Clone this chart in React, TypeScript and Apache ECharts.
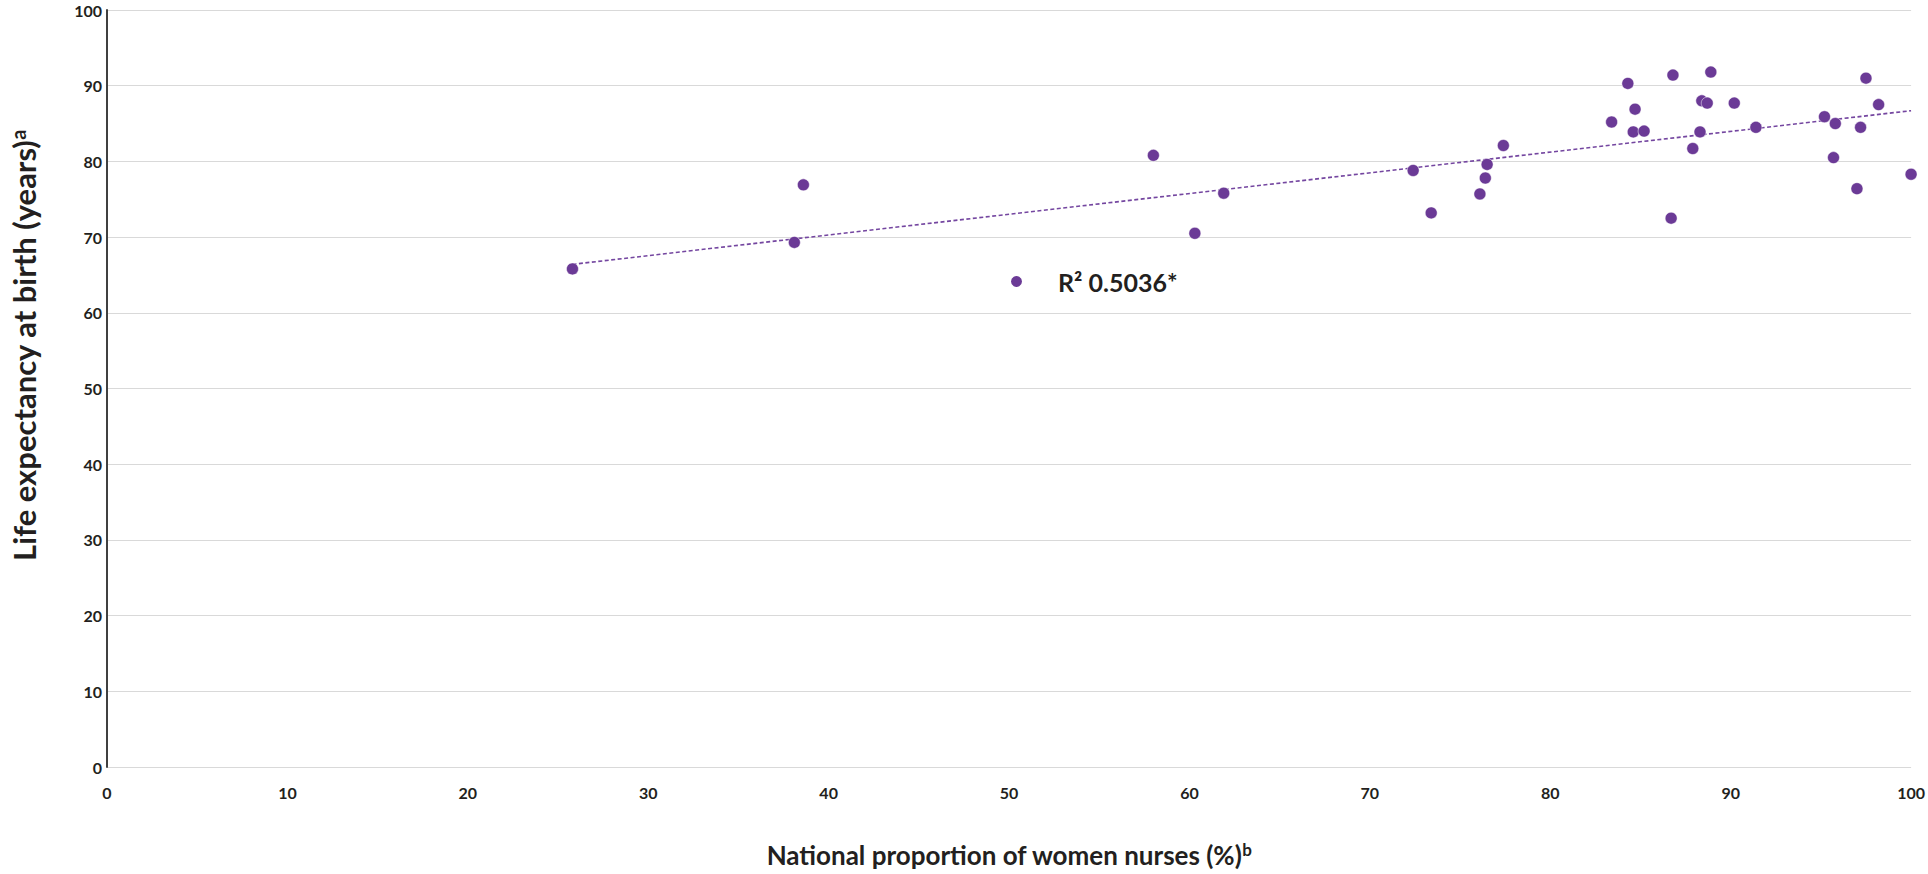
import React, { useEffect, useRef } from "react";
import * as echarts from "echarts";

// National proportion of women nurses (%)
const womenNursesPct = [
  25.8, 38.1, 38.6, 58.0, 60.3, 61.9, 72.4, 73.4, 76.1, 76.4, 76.5, 77.4,
  83.4, 84.3, 84.7, 84.6, 85.2, 86.8, 86.7, 87.9, 88.3, 88.4, 88.7, 88.9,
  90.2, 91.4, 95.2, 95.8, 95.7, 97.0, 97.2, 97.5, 98.2, 100.0,
];
// Life expectancy at birth (years)
const lifeExpectancy = [
  65.8, 69.3, 76.9, 80.8, 70.5, 75.8, 78.8, 73.2, 75.7, 77.8, 79.6, 82.1,
  85.2, 90.3, 86.9, 83.9, 84.0, 91.4, 72.5, 81.7, 83.9, 88.0, 87.7, 91.8,
  87.7, 84.5, 85.9, 85.0, 80.5, 76.4, 84.5, 91.0, 87.5, 78.3,
];
// Linear trend line end points
const trendX = [25.8, 100];
const trendY = [66.4, 86.7];

const xTicks = [0, 10, 20, 30, 40, 50, 60, 70, 80, 90, 100];
const yTicks = [0, 10, 20, 30, 40, 50, 60, 70, 80, 90, 100];

const seriesName = "R² 0.5036*";
const FONT = "Lato, 'Noto Sans', sans-serif";
const TEXT = "#231f20";
const PURPLE = "#6B3A96";

export default function App() {
  const ref = useRef<HTMLDivElement>(null);
  useEffect(() => {
    if (!ref.current) return;
    const chart = echarts.init(ref.current, undefined, { renderer: "svg" });
    const points = womenNursesPct.map((x, i) => [x, lifeExpectancy[i]]);
    const trend = trendX.map((x, i) => [x, trendY[i]]);
    chart.setOption({
      animation: false,
      backgroundColor: "#ffffff",
      textStyle: { fontFamily: FONT },
      grid: { left: 101, right: 14, top: 10, bottom: 104, containLabel: false },
      legend: {
        show: true,
        data: [seriesName],
        left: 1009,
        top: 269,
        padding: 0,
        itemWidth: 13,
        itemHeight: 13,
        icon: "circle",
        textStyle: {
          fontFamily: FONT,
          fontSize: 25,
          fontWeight: "bold",
          color: TEXT,
          padding: [0, 0, 0, 30],
        },
        selectedMode: false,
      },
      xAxis: {
        type: "value",
        min: xTicks[0],
        max: xTicks[xTicks.length - 1],
        interval: 10,
        name: "National proportion of women nurses (%){sup|b}",
        nameLocation: "middle",
        nameGap: 74,
        nameTextStyle: {
          fontFamily: FONT,
          fontSize: 26,
          fontWeight: "bold",
          color: TEXT,
          lineHeight: 28,
          rich: {
            sup: { fontSize: 17, fontWeight: "bold", color: TEXT, verticalAlign: "top", lineHeight: 17 },
          },
        },
        axisLine: {
          show: true,
          onZero: false,
          lineStyle: { color: "#404040", width: 2, shadowColor: "#c8c8c8", shadowOffsetY: 2, shadowBlur: 0 },
        },
        axisTick: { show: false },
        splitLine: { show: false },
        axisLabel: {
          fontFamily: FONT,
          fontSize: 16,
          fontWeight: "bold",
          color: TEXT,
          margin: 17,
        },
      },
      yAxis: {
        type: "value",
        min: yTicks[0],
        max: yTicks[yTicks.length - 1],
        interval: 10,
        name: "Life expectancy at birth (years){sup|a}",
        nameLocation: "middle",
        nameRotate: 90,
        nameGap: 67,
        nameTextStyle: {
          fontFamily: FONT,
          fontSize: 31,
          fontWeight: "bold",
          color: TEXT,
          lineHeight: 32,
          padding: [0, 0, 0, 86],
          rich: {
            sup: { fontSize: 20, fontWeight: "bold", color: TEXT, verticalAlign: "top", lineHeight: 20 },
          },
        },
        axisLine: { show: true, lineStyle: { color: "#404040", width: 2 } },
        axisTick: { show: false },
        splitLine: { show: true, lineStyle: { color: "#d9d9d9", width: 1 } },
        axisLabel: {
          fontFamily: FONT,
          fontSize: 16,
          fontWeight: "bold",
          color: TEXT,
          margin: 5,
        },
      },
      series: [
        {
          name: "trend",
          type: "line",
          data: trend,
          symbol: "none",
          silent: true,
          z: 1,
          lineStyle: { color: "#7446A0", width: 1.6, type: [4, 2.5] },
        },
        {
          name: seriesName,
          type: "scatter",
          data: points,
          symbol: "circle",
          symbolSize: 12,
          z: 3,
          itemStyle: { color: PURPLE, borderColor: "#ffffff", borderWidth: 0.5, opacity: 1 },
        },
      ],
    });
    return () => chart.dispose();
  }, []);
  return (
    <div
      ref={ref}
      style={{ position: "fixed", left: 0, top: 0, width: "1928px", height: "874px" }}
    />
  );
}
